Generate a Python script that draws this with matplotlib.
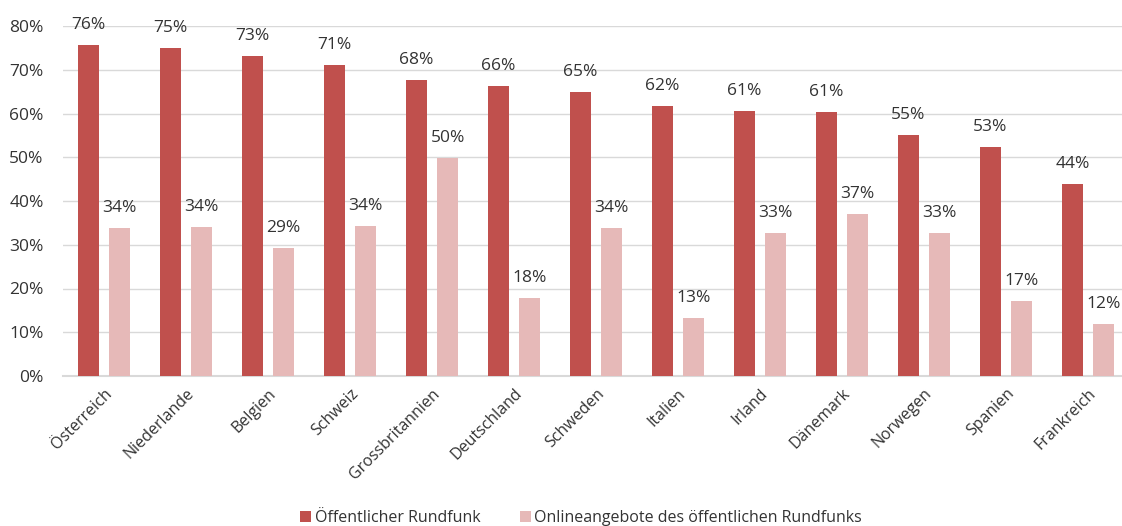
import numpy as np
import matplotlib.pyplot as plt
from matplotlib.ticker import FuncFormatter

plt.rcParams['font.family'] = ['Open Sans', 'DejaVu Sans']

laender = ['Österreich', 'Niederlande', 'Belgien', 'Schweiz', 'Grossbritannien',
           'Deutschland', 'Schweden', 'Italien', 'Irland', 'Dänemark',
           'Norwegen', 'Spanien', 'Frankreich']
rundfunk = [75.7, 75.0, 73.1, 71.1, 67.7, 66.3, 64.9, 61.7, 60.6, 60.4, 55.1, 52.4, 44.0]
online = [33.9, 34.1, 29.3, 34.3, 49.9, 17.8, 33.9, 13.3, 32.8, 37.0, 32.8, 17.1, 12.0]
labels_r = [76, 75, 73, 71, 68, 66, 65, 62, 61, 61, 55, 53, 44]
labels_o = [34, 34, 29, 34, 50, 18, 34, 13, 33, 37, 33, 17, 12]

c_dark = '#C0504D'
c_light = '#E6B9B8'
txt = '#333333'

fig = plt.figure(figsize=(11.22, 5.26), dpi=100)
# 82 px per country group, last group runs a little past the right edge
ax = fig.add_axes([63/1122, 1-376/526, 1066/1122, (376-26)/526])

x = np.arange(len(laender))
w = 0.25
off = 0.19
b1 = ax.bar(x-off, rundfunk, w, color=c_dark, label='Öffentlicher Rundfunk', zorder=3)
b2 = ax.bar(x+off, online, w, color=c_light,
            label='Onlineangebote des öffentlichen Rundfunks', zorder=3)

for xi, v, l in zip(x, rundfunk, labels_r):
    ax.text(xi-off, v+2.7, f'{l}%', ha='center', va='bottom', fontsize=12.5, color=txt)
for xi, v, l in zip(x, online, labels_o):
    ax.text(xi+off, v+2.7, f'{l}%', ha='center', va='bottom', fontsize=12.5, color=txt)

ax.set_xlim(-0.5, len(laender)-0.5)
ax.set_ylim(0, 80)
ax.set_yticks(range(0, 81, 10))
ax.yaxis.set_major_formatter(FuncFormatter(lambda v, p: f'{int(v)}%'))
ax.grid(axis='y', color='#D9D9D9', lw=1, zorder=0)
for s in ['top', 'right', 'left']:
    ax.spines[s].set_visible(False)
ax.spines['bottom'].set_color('#D9D9D9')
ax.spines['bottom'].set_linewidth(1.5)
ax.tick_params(axis='y', length=0, labelsize=12.5, labelcolor=txt, pad=14)
ax.tick_params(axis='x', length=0, labelsize=11.5, labelcolor=txt, pad=7)
ax.set_xticks(x)
ax.set_xticklabels(laender, rotation=45, ha='right', rotation_mode='anchor')

fig.legend(handles=[b1, b2], loc='lower center', bbox_to_anchor=(0.518, -0.028),
           ncol=2, frameon=False, fontsize=11.5, handlelength=0.7, handleheight=0.7,
           handletextpad=0.2, columnspacing=2.5, labelcolor=txt)

fig.savefig('out.png', dpi=100)
